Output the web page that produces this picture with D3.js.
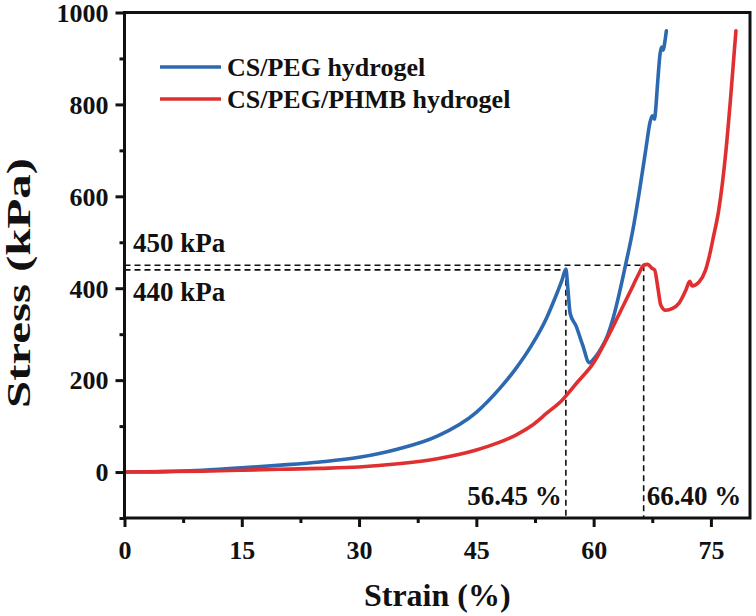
<!DOCTYPE html>
<html>
<head>
<meta charset="utf-8">
<script src="https://cdn.jsdelivr.net/npm/d3@7"></script>
<style>
  html, body { margin: 0; padding: 0; background: #fff; }
  svg text { font-family: "Times New Roman", "Liberation Serif", serif; font-weight: bold; fill: #111; }
</style>
</head>
<body>
<svg id="chart" width="756" height="616"></svg>
<script>
// ---- data ----
const seriesNames = ["CS/PEG hydrogel", "CS/PEG/PHMB hydrogel"];
const seriesColors = ["#2d69b0", "#e02f30"];

const blueStrain = [0, 5, 10, 15, 20, 25, 30, 35, 40, 45, 48, 50, 52, 54, 55, 56, 56.45,
  56.7, 57.0, 57.75, 58.6, 59.45, 60.2, 61.0, 61.8, 62.5, 63.3, 64.1, 65.0, 65.8, 66.7, 67.2, 67.5, 67.8, 67.9, 68.2, 68.5, 68.7, 68.9, 69.1, 69.3];
const blueStress = [0, 1, 4, 9, 15, 22, 32, 50, 78, 130, 182, 224, 274, 336, 376, 420, 442,
  400, 345, 318, 276, 238, 250, 270, 298, 335, 390, 452, 525, 605, 705, 760, 775, 768, 782, 850, 910, 925, 918, 935, 960];

const redStrain = [0, 5, 10, 15, 20, 25, 30, 35, 40, 45, 48, 50, 52, 54, 56, 58, 60, 61.6, 63.3, 64.6, 65.8, 66.4, 66.9, 67.5, 67.8,
  68.2, 68.6, 69.2, 70.1, 70.9, 71.8, 72.3, 72.6, 73.5, 74.3, 74.8, 75.3, 76.0, 76.9, 77.5, 78.2];
const redStress = [0, 1, 2, 4, 6, 8, 11, 18, 29, 48, 65, 80, 100, 128, 157, 197, 238, 287, 345, 390, 432, 450, 452, 443, 440,
  403, 363, 352, 356, 367, 396, 415, 405, 414, 439, 470, 510, 570, 695, 810, 960];

const xTicks = [0, 15, 30, 45, 60, 75];
const xMinor = [7.5, 22.5, 37.5, 52.5, 67.5];
const yTicks = [0, 200, 400, 600, 800, 1000];
const yMinor = [-100, 100, 300, 500, 700, 900];

const peakStrain = [56.45, 66.40];
const peakStress = [440, 450];
const peakStrainLabels = ["56.45 %", "66.40 %"];
const peakStressLabels = ["450 kPa", "440 kPa"];

// ---- layout ----
const svg = d3.select("#chart");
const L = 124.5, R = 750, T = 12.5, B = 518;
const x = d3.scaleLinear().domain([0, 80]).range([L, R]);
const y = d3.scaleLinear().domain([-100, 1000]).range([B, T]);

// dashed guide lines
const dash = svg.append("g").attr("stroke", "#111").attr("stroke-width", 1.6).attr("stroke-dasharray", "6,4").attr("fill", "none");
dash.append("line").attr("x1", x(0)).attr("x2", x(peakStrain[1])).attr("y1", y(peakStress[1])).attr("y2", y(peakStress[1]));
dash.append("line").attr("x1", x(0)).attr("x2", x(peakStrain[0])).attr("y1", y(peakStress[0])).attr("y2", y(peakStress[0]));
dash.append("line").attr("x1", x(peakStrain[0])).attr("x2", x(peakStrain[0])).attr("y1", y(peakStress[0])).attr("y2", y(-100));
dash.append("line").attr("x1", x(peakStrain[1])).attr("x2", x(peakStrain[1])).attr("y1", y(peakStress[1])).attr("y2", y(-100));

// curves
const line = d3.line().x(d => x(d[0])).y(d => y(d[1])).curve(d3.curveMonotoneX);
const blue = blueStrain.map((s, i) => [s, blueStress[i]]);
const red = redStrain.map((s, i) => [s, redStress[i]]);
svg.append("path").datum(blue).attr("d", line).attr("fill", "none")
  .attr("stroke", seriesColors[0]).attr("stroke-width", 3.6).attr("stroke-linejoin", "round").attr("stroke-linecap", "round");
svg.append("path").datum(red).attr("d", line).attr("fill", "none")
  .attr("stroke", seriesColors[1]).attr("stroke-width", 3.6).attr("stroke-linejoin", "round").attr("stroke-linecap", "round");

// frame
svg.append("rect").attr("x", L).attr("y", T).attr("width", R - L).attr("height", B - T)
  .attr("fill", "none").attr("stroke", "#111").attr("stroke-width", 3);

// axes
svg.append("g").attr("transform", `translate(0,${B})`)
  .call(d3.axisBottom(x).tickValues(xTicks).tickSize(9).tickPadding(14).tickFormat(d3.format("d")));
svg.append("g").attr("transform", `translate(0,${B})`)
  .call(d3.axisBottom(x).tickValues(xMinor).tickSize(5).tickFormat(""));
const yAxis = svg.append("g").attr("transform", `translate(${L},0)`)
  .call(d3.axisLeft(y).tickValues(yTicks).tickSize(9).tickPadding(7).tickFormat(d3.format("d")));
svg.append("g").attr("transform", `translate(${L},0)`)
  .call(d3.axisLeft(y).tickValues(yMinor).tickSize(5).tickFormat(""));
svg.selectAll(".domain").remove();
svg.selectAll(".tick line").attr("stroke", "#111").attr("stroke-width", 3);
svg.selectAll(".tick text").style("font-family", '"Times New Roman", "Liberation Serif", serif')
  .style("font-weight", "bold").style("font-size", "26px").attr("fill", "#111");
yAxis.selectAll(".tick text").attr("dy", "0.34em");

// axis titles
svg.append("text").attr("x", (L + R) / 2).attr("y", 606).attr("text-anchor", "middle")
  .style("font-size", "32px").text("Strain (%)");
svg.append("text").attr("transform", `translate(30,283) rotate(-90)`).attr("text-anchor", "middle")
  .attr("textLength", 250).attr("lengthAdjust", "spacingAndGlyphs")
  .style("font-size", "33px").text("Stress (kPa)");

// legend
const leg = svg.append("g");
[0, 1].forEach(i => {
  const cy = 67 + i * 32;
  leg.append("line").attr("x1", 160).attr("x2", 221).attr("y1", cy).attr("y2", cy)
    .attr("stroke", seriesColors[i]).attr("stroke-width", 3.6);
  leg.append("text").attr("x", 227).attr("y", cy + 9).style("font-size", "26px").text(seriesNames[i]);
});

// annotations
svg.append("text").attr("x", 133).attr("y", y(peakStress[1]) - 13).style("font-size", "27px").text(peakStressLabels[0]);
svg.append("text").attr("x", 133).attr("y", y(peakStress[0]) + 31).style("font-size", "27px").text(peakStressLabels[1]);
svg.append("text").attr("x", x(peakStrain[0]) - 4).attr("y", 505).attr("text-anchor", "end").style("font-size", "27px").text(peakStrainLabels[0]);
svg.append("text").attr("x", x(peakStrain[1]) + 3).attr("y", 505).style("font-size", "27px").text(peakStrainLabels[1]);
</script>
</body>
</html>
